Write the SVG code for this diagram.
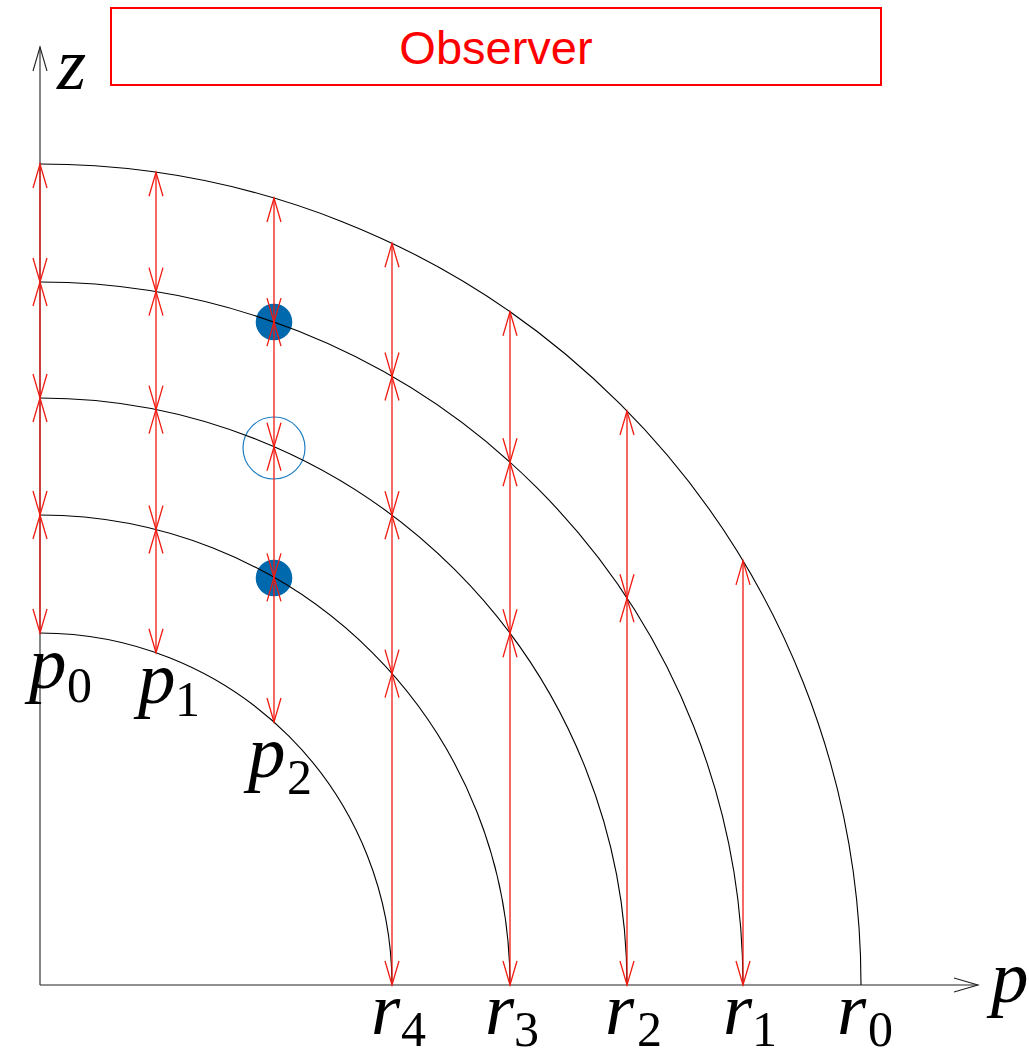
<svg xmlns="http://www.w3.org/2000/svg" width="1029" height="1054" viewBox="0 0 1029 1054">
<style>
.arc{fill:none;stroke:#000;stroke-width:1.1}
.axis{fill:none;stroke:#222;stroke-width:1.1}
.v{stroke:#f01a10;stroke-width:1.3;fill:none}
.m{font-family:"Liberation Serif","Times New Roman",serif;font-style:italic;fill:#000}
.s{font-family:"Liberation Serif","Times New Roman",serif;fill:#000;font-size:50px}
.big{font-size:75px}
</style>
<defs>
<marker id="ah" viewBox="-26 -9 28 18" refX="0" refY="0" markerWidth="28" markerHeight="18" markerUnits="userSpaceOnUse" orient="auto-start-reverse" overflow="visible">
<path d="M-24,-7 L0,0 L-24,7" fill="none" stroke="#f01a10" stroke-width="1.3"/>
</marker>
<marker id="ax" viewBox="-26 -9 28 18" refX="0" refY="0" markerWidth="28" markerHeight="18" markerUnits="userSpaceOnUse" orient="auto" overflow="visible">
<path d="M-24,-7 L0,0 L-24,7" fill="none" stroke="#222" stroke-width="1.1"/>
</marker>
</defs>
<rect width="1029" height="1054" fill="#fff"/>
<g id="observer">
<rect x="111" y="8" width="770" height="77" fill="none" stroke="#ff0000" stroke-width="2"/>
<text x="496" y="64" text-anchor="middle" font-family="'Liberation Sans',Arial,sans-serif" font-size="47" fill="#ff0000">Observer</text>
</g>
<g id="samples">
<circle id="dot1" cx="274" cy="322" r="18.3" fill="#0068ad"/>
<circle id="ring" cx="274" cy="448" r="31" fill="none" stroke="#1f7ec1" stroke-width="1.2"/>
<circle id="dot2" cx="274" cy="578" r="18.3" fill="#0068ad"/>
</g>
<g id="axes">
<line class="axis" x1="40" y1="985" x2="40" y2="47" marker-end="url(#ax)"/>
<line class="axis" x1="40" y1="985" x2="978" y2="985" marker-end="url(#ax)"/>
</g>
<g id="shells">
<path class="arc" d="M40,164 A821,821 0 0 1 861,985"/>
<path class="arc" d="M40,282 A703,703 0 0 1 743,985"/>
<path class="arc" d="M40,398 A587,587 0 0 1 627,985"/>
<path class="arc" d="M40,515 A470,470 0 0 1 510,985"/>
<path class="arc" d="M40,633 A352,352 0 0 1 392,985"/>
</g>
<g id="connectors" class="v" marker-start="url(#ah)" marker-end="url(#ah)">
<line x1="40" y1="164" x2="40" y2="282"/>
<line x1="40" y1="282" x2="40" y2="398"/>
<line x1="40" y1="398" x2="40" y2="515"/>
<line x1="40" y1="515" x2="40" y2="633"/>
<line x1="156" y1="172.2" x2="156" y2="291.6"/>
<line x1="156" y1="291.6" x2="156" y2="409.6"/>
<line x1="156" y1="409.6" x2="156" y2="529.5"/>
<line x1="156" y1="529.5" x2="156" y2="652.7"/>
<line x1="274" y1="198" x2="274" y2="322.1"/>
<line x1="274" y1="322.1" x2="274" y2="446.7"/>
<line x1="274" y1="446.7" x2="274" y2="577.4"/>
<line x1="274" y1="577.4" x2="274" y2="722"/>
<line x1="392" y1="243.3" x2="392" y2="376.5"/>
<line x1="392" y1="376.5" x2="392" y2="515.3"/>
<line x1="392" y1="515.3" x2="392" y2="673.6"/>
<line x1="392" y1="673.6" x2="392" y2="985"/>
<line x1="510" y1="311.8" x2="510" y2="462.2"/>
<line x1="510" y1="462.2" x2="510" y2="633.3"/>
<line x1="510" y1="633.3" x2="510" y2="985"/>
<line x1="627" y1="411" x2="627" y2="598.2"/>
<line x1="627" y1="598.2" x2="627" y2="985"/>
<line x1="743" y1="560.9" x2="743" y2="985"/>
</g>
<g id="labels">
<text class="m big" x="57" y="89">z</text>
<text class="m big" x="991" y="1002">p</text>
<g id="lbl-p0"><text class="m big" x="29" y="688">p</text><text class="s" x="67" y="702">0</text></g>
<g id="lbl-p1"><text class="m big" x="138" y="703">p</text><text class="s" x="175" y="716">1</text></g>
<g id="lbl-p2"><text class="m big" x="248" y="777">p</text><text class="s" x="287" y="794">2</text></g>
<g id="lbl-r4"><text class="m big" x="371" y="1034">r</text><text class="s" x="401" y="1046">4</text></g>
<g id="lbl-r3"><text class="m big" x="485" y="1034">r</text><text class="s" x="514" y="1046">3</text></g>
<g id="lbl-r2"><text class="m big" x="605" y="1034">r</text><text class="s" x="637" y="1046">2</text></g>
<g id="lbl-r1"><text class="m big" x="723" y="1034">r</text><text class="s" x="752" y="1046">1</text></g>
<g id="lbl-r0"><text class="m big" x="837" y="1034">r</text><text class="s" x="868" y="1046">0</text></g>
</g>
</svg>
